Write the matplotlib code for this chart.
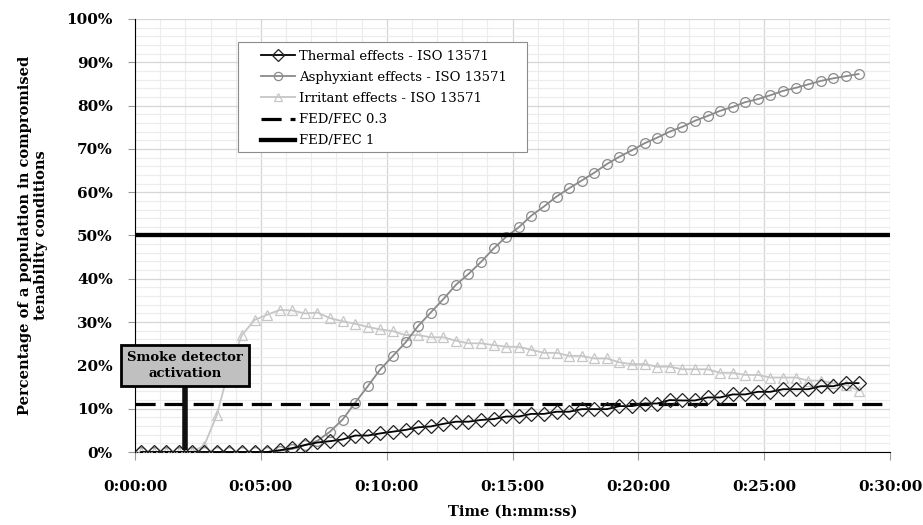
import numpy as np
import matplotlib
matplotlib.use("Agg")
import matplotlib.pyplot as plt
from matplotlib.patches import Rectangle
from matplotlib.ticker import MultipleLocator, FuncFormatter

plt.rcParams['font.family'] = ['DejaVu Serif']

# sample times in minutes (one point every 30 s)
times = np.arange(0.25, 29.0, 0.5)

thermal = [0, 0, 0, 0, 0, 0, 0, 0, 0, 0, 0,
           0.4, 0.9, 1.6, 2.2, 2.5, 2.9, 3.8, 3.8, 4.3, 4.7,
           5.1, 5.7, 5.9, 6.5, 7.0, 7.0, 7.4, 7.6, 8.2, 8.2,
           8.8, 8.8, 9.3, 9.3, 9.9, 9.9, 9.9, 10.6, 10.6, 11.2,
           11.2, 12.0, 11.9, 11.9, 12.6, 12.6, 13.3, 13.3, 13.9, 13.9,
           14.5, 14.5, 14.5, 15.2, 15.2, 15.9, 15.9]
asphyxiant = [0, 0, 0, 0, 0, 0, 0, 0, 0, 0, 0,
              0.3, 0.7, 1.6, 2.6, 4.7, 7.5, 11.4, 15.2, 19.1, 22.2,
              25.3, 29.1, 32.2, 35.3, 38.6, 41.1, 43.9, 47.0, 49.7, 51.9,
              54.6, 56.7, 59.0, 60.9, 62.7, 64.5, 66.5, 68.2, 69.7, 71.3,
              72.6, 74.0, 75.1, 76.5, 77.6, 78.8, 79.7, 80.8, 81.5, 82.4,
              83.4, 84.1, 84.9, 85.7, 86.3, 86.8, 87.3]
irritant = [0, 0, 0, 0, 0,
            1.5, 8.5, 19.5, 27.0, 30.5, 31.7, 32.8, 32.7, 32.0, 32.2,
            30.9, 30.2, 29.6, 28.9, 28.3, 27.9, 27.0, 27.0, 26.5, 26.5,
            25.7, 25.1, 25.1, 24.7, 24.3, 24.3, 23.6, 22.9, 22.9, 22.2,
            22.2, 21.6, 21.6, 20.7, 20.3, 20.3, 19.7, 19.7, 19.1, 19.1,
            19.1, 18.3, 18.3, 17.8, 17.8, 17.2, 17.2, 17.2, 16.5, 16.5,
            15.9, 15.5, 14.2]

fed_03 = 11.2
fed_1 = 50.0
detector_time = 2.0   # min
detector_text = 'Smoke detector\nactivation'

W, H = 923, 525
fig = plt.figure(figsize=(W / 100, H / 100), dpi=100)
ax = fig.add_axes([135 / W, 1 - 452 / H, 755 / W, 433 / H])

ax.plot(times, thermal, color='black', lw=1.3, marker='D', ms=7,
        mfc='none', mec='#222222', mew=0.9,
        label='Thermal effects - ISO 13571', zorder=7)
ax.plot(times, asphyxiant, color='#8a8a8a', lw=1.3, marker='o', ms=7,
        mfc='none', mec='#8a8a8a', mew=0.9,
        label='Asphyxiant effects - ISO 13571', zorder=4)
ax.plot(times, irritant, color='#c6c6c6', lw=1.3, marker='^', ms=7.5,
        mfc='none', mec='#c6c6c6', mew=0.9,
        label='Irritant effects - ISO 13571', zorder=3)
dash, = ax.plot([0, 30], [fed_03, fed_03], color='black', lw=2.3,
                label='FED/FEC 0.3', zorder=6)
dash.set_dashes([6.3, 2.8])
ax.plot([0, 30], [fed_1, fed_1], color='black', lw=3.1,
        label='FED/FEC 1', zorder=6)

# detector marker + label box
ax.plot([detector_time, detector_time], [0.5, 15], color='#111111', lw=4,
        solid_capstyle='butt', zorder=8)
ax.text(detector_time, 20, detector_text, ha='center', va='center',
        fontsize=9.5, fontweight='bold', linespacing=1.3, zorder=9,
        bbox=dict(boxstyle='square,pad=0.45', fc='#c0c0c0', ec='black', lw=2))

ax.set_xlim(0, 30)
ax.set_ylim(0, 100)
ax.xaxis.set_major_locator(MultipleLocator(5))
ax.xaxis.set_minor_locator(MultipleLocator(1))
ax.yaxis.set_major_locator(MultipleLocator(10))
ax.yaxis.set_minor_locator(MultipleLocator(2))
ax.xaxis.set_major_formatter(FuncFormatter(lambda v, p: '0:%02d:00' % int(round(v))))
ax.yaxis.set_major_formatter(FuncFormatter(lambda v, p: '%d%%' % int(round(v))))

ax.grid(which='major', color='#d6d6d6', lw=0.9)
ax.grid(which='minor', color='#ececec', lw=0.8)
ax.set_axisbelow(True)

for s in ['top', 'right']:
    ax.spines[s].set_visible(False)
ax.spines['left'].set_color('black')
ax.spines['bottom'].set_color('black')
ax.tick_params(axis='x', which='major', length=6, color='#999999', pad=14)
ax.tick_params(axis='y', which='major', length=5, color='#999999', pad=11)
ax.tick_params(which='minor', length=0)
for lbl in ax.get_xticklabels() + ax.get_yticklabels():
    lbl.set_fontsize(11)
    lbl.set_fontweight('bold')

ax.set_xlabel('Time (h:mm:ss)', fontsize=10.5, fontweight='bold', labelpad=8)
ax.set_ylabel('Percentage of a population in compromised\ntenability conditions',
              fontsize=10.5, fontweight='bold', va='center', linespacing=1.2)
ax.yaxis.set_label_coords(-0.135, 0.5)

# legend: frame drawn separately so it can be wider than its entries
frame = Rectangle((238 / W, 1 - 152 / H), 289 / W, 110 / H,
                  transform=fig.transFigure, fc='white', ec='#8c8c8c',
                  lw=0.8, zorder=10)
ax.add_artist(frame)
frame.set_clip_on(False)
leg = ax.legend(loc='upper left', bbox_to_anchor=(258 / W, 1 - 47 / H),
                bbox_transform=fig.transFigure, fontsize=9.5, numpoints=1,
                handlelength=2.6, labelspacing=0.62, borderpad=0.2,
                handletextpad=0.3, frameon=False, borderaxespad=0,
                markerscale=0.85)
leg.set_zorder(11)

fig.savefig('out.png', dpi=100)
